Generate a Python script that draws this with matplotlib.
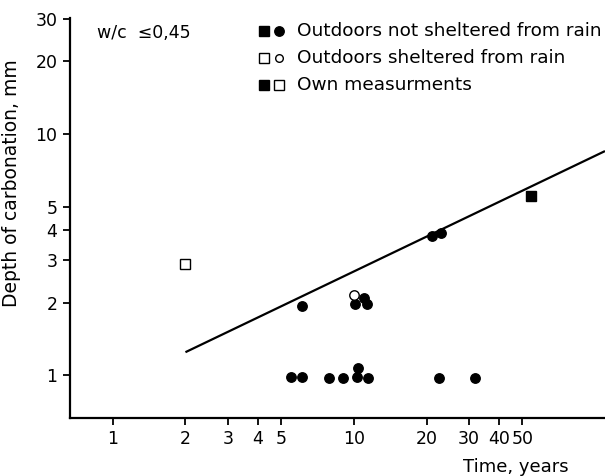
import matplotlib
matplotlib.use("Agg")
import matplotlib.pyplot as plt
from matplotlib.lines import Line2D
from matplotlib.ticker import FixedLocator, NullLocator, FixedFormatter

# Data
ns_x = [5.5, 6.1, 6.1, 7.9, 9.0, 10.3, 10.4, 11.4, 10.1, 11.0, 11.3, 22.5, 31.8, 21.1, 22.9]
ns_y = [0.98, 0.98, 1.93, 0.97, 0.97, 0.98, 1.07, 0.97, 1.97, 2.08, 1.98, 0.97, 0.97, 3.79, 3.90]
sh_x = [10.0]
sh_y = [2.14]
own_open_x = [2.0]
own_open_y = [2.88]
own_fill_x = [54.0]
own_fill_y = [5.55]
line_x = [2.0, 110.0]
line_y = [1.245, 8.5]

xticks = [1, 2, 3, 4, 5, 10, 20, 30, 40, 50]
yticks = [1, 2, 3, 4, 5, 10, 20, 30]

plt.rcParams['font.family'] = ['DejaVu Sans']

fig = plt.figure(figsize=(6.05, 4.76), dpi=100)
ax = fig.add_axes([70/605, 1-418/476, 1-70/605, (418-18)/476])
ax.set_xscale('log')
ax.set_yscale('log')
ax.set_xlim(0.664, 110)
ax.set_ylim(0.664, 30.3)

for s in ['top', 'right']:
    ax.spines[s].set_visible(False)
for s in ['left', 'bottom']:
    ax.spines[s].set_linewidth(1.6)

ax.plot(line_x, line_y, color='black', lw=1.6, solid_capstyle='butt')
ax.plot(ns_x, ns_y, 'o', color='black', ms=6.8, mec='black')
ax.plot(sh_x, sh_y, 'o', mfc='white', mec='black', ms=6.8, mew=1.0)
ax.plot(own_open_x, own_open_y, 's', mfc='white', mec='black', ms=7.5, mew=1.0)
ax.plot(own_fill_x, own_fill_y, 's', color='black', ms=7.5)

ax.xaxis.set_major_locator(FixedLocator(xticks))
ax.xaxis.set_major_formatter(FixedFormatter([str(v) for v in xticks]))
ax.xaxis.set_minor_locator(NullLocator())
ax.yaxis.set_major_locator(FixedLocator(yticks))
ax.yaxis.set_major_formatter(FixedFormatter([str(v) for v in yticks]))
ax.yaxis.set_minor_locator(NullLocator())
ax.tick_params(direction='out', length=5, width=1.3, labelsize=12.5, pad=4)

fig.text(12/605, 1-183/476, 'Depth of carbonation, mm', rotation=90, ha='center', va='center', fontsize=13.5)
fig.text(569/605, 1-467/476, 'Time, years', ha='right', va='center', fontsize=13)
fig.text(97/605, 1-33/476, 'w/c  \u22640,45', ha='left', va='center', fontsize=12.5)

# legend built by hand
rows = [
    ('Outdoors not sheltered from rain', [('s', 'black'), ('o', 'black')], 31),
    ('Outdoors sheltered from rain', [('s', 'white'), ('o', 'white')], 58),
    ('Own measurments', [('s', 'black'), ('s', 'white')], 85),
]
for label, marks, py in rows:
    yy = 1 - py/476
    for (m, fc), px in zip(marks, [264, 279]):
        ms = 7.5 if m == 's' else (6.8 if fc == 'black' else 5.5)
        fig.lines.append(Line2D([px/605], [yy], marker=m, mfc=fc, mec='black',
                                ms=ms, mew=1.0, transform=fig.transFigure, linestyle='none'))
    fig.text(297/605, yy, label, ha='left', va='center', fontsize=13.3)

fig.savefig('out.png', dpi=100)
